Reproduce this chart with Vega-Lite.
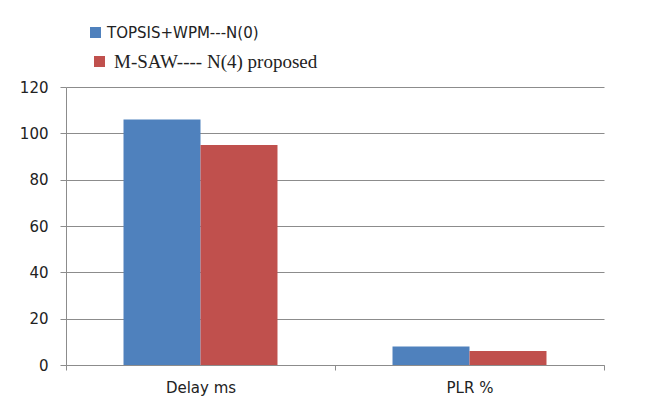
{
  "$schema": "https://vega.github.io/schema/vega-lite/v6.json",
  "width": 538,
  "height": 278,
  "autosize": {"type": "none"},
  "padding": {"left": 66, "top": 87, "right": 59, "bottom": 38},
  "background": "white",
  "config": {"view": {"stroke": null}},
  "data": {
    "values": [
      {"metric": "Delay ms", "method": "TOPSIS+WPM---N(0)", "value": 106},
      {"metric": "Delay ms", "method": "M-SAW---- N(4) proposed", "value": 95},
      {"metric": "PLR %", "method": "TOPSIS+WPM---N(0)", "value": 8},
      {"metric": "PLR %", "method": "M-SAW---- N(4) proposed", "value": 6}
    ]
  },
  "encoding": {
    "x": {
      "field": "metric",
      "type": "nominal",
      "sort": ["Delay ms", "PLR %"],
      "scale": {"paddingInner": 0, "paddingOuter": 0},
      "axis": {
        "title": null,
        "labelAngle": 0,
        "labelFont": "DejaVu Sans",
        "labelFontSize": 15,
        "labelColor": "#222222",
        "labelPadding": 10,
        "tickBand": "extent",
        "tickSize": 5,
        "tickColor": "#8c8c8c",
        "domainColor": "#8c8c8c",
        "grid": false
      }
    },
    "xOffset": {
      "field": "method",
      "type": "nominal",
      "scale": {
        "domain": ["TOPSIS+WPM---N(0)", "M-SAW---- N(4) proposed"],
        "paddingInner": 0,
        "paddingOuter": 0.747
      }
    },
    "y": {
      "field": "value",
      "type": "quantitative",
      "scale": {"domain": [0, 120], "nice": false},
      "axis": {
        "title": null,
        "values": [0, 20, 40, 60, 80, 100, 120],
        "labelFont": "DejaVu Sans",
        "labelFontSize": 15,
        "labelColor": "#222222",
        "labelPadding": 12,
        "tickSize": 6,
        "tickColor": "#8c8c8c",
        "domainColor": "#8c8c8c",
        "gridColor": "#8c8c8c",
        "grid": true
      }
    }
  },
  "layer": [
    {
      "transform": [{"filter": "datum.method === 'TOPSIS+WPM---N(0)'"}],
      "mark": {"type": "bar"},
      "encoding": {
        "color": {
          "field": "method",
          "type": "nominal",
          "scale": {"domain": ["TOPSIS+WPM---N(0)"], "range": ["#4F81BD"]},
          "legend": {
            "title": null,
            "orient": "none",
            "legendX": 22,
            "legendY": -62,
            "symbolType": "square",
            "symbolSize": 121,
            "symbolStrokeWidth": 0,
            "labelFont": "DejaVu Sans",
            "labelFontSize": 15,
            "labelColor": "#222222",
            "labelOffset": 4,
            "labelLimit": 400
          }
        }
      }
    },
    {
      "transform": [{"filter": "datum.method === 'M-SAW---- N(4) proposed'"}],
      "mark": {"type": "bar"},
      "encoding": {
        "color": {
          "field": "method",
          "type": "nominal",
          "scale": {"domain": ["M-SAW---- N(4) proposed"], "range": ["#C0504D"]},
          "legend": {
            "title": null,
            "orient": "none",
            "legendX": 24,
            "legendY": -35,
            "symbolType": "square",
            "symbolSize": 121,
            "symbolStrokeWidth": 0,
            "labelFont": "Liberation Serif",
            "labelFontSize": 19,
            "labelColor": "#222222",
            "labelOffset": 5,
            "labelLimit": 400
          }
        }
      }
    }
  ],
  "resolve": {"scale": {"color": "independent"}, "legend": {"color": "independent"}}
}
